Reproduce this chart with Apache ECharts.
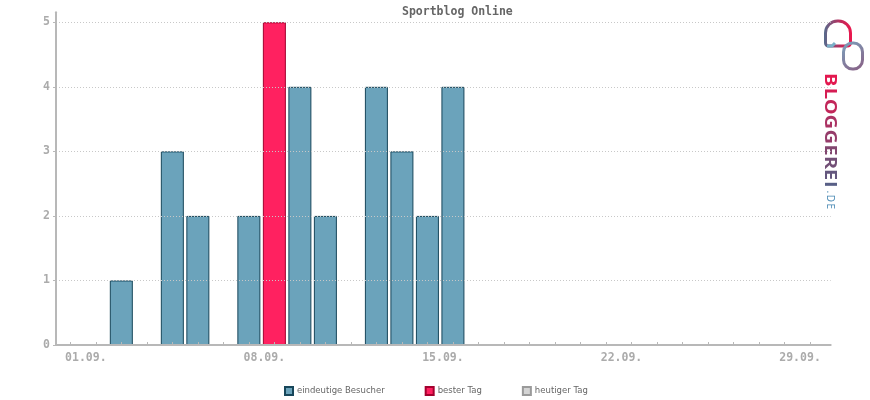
<!DOCTYPE html>
<html>
<head>
<meta charset="utf-8">
<script src="https://cdn.jsdelivr.net/npm/echarts@6/dist/echarts.min.js"></script>
<style>html,body{margin:0;padding:0;background:#fff}#c{width:870px;height:400px}</style>
</head>
<body>
<div id="c"></div>
<script>
// ---- data ----
const titleText = 'Sportblog Online';
const dayLabels = ['01.09.','02.09.','03.09.','04.09.','05.09.','06.09.','07.09.','08.09.','09.09.','10.09.',
  '11.09.','12.09.','13.09.','14.09.','15.09.','16.09.','17.09.','18.09.','19.09.','20.09.',
  '21.09.','22.09.','23.09.','24.09.','25.09.','26.09.','27.09.','28.09.','29.09.','30.09.'];
const visitors = [0,1,0,3,2,0,2,5,4,2, 0,4,3,2,4,0,0,0,0,0, 0,0,0,0,0,0,0,0,0,0];
const bestDay = 8;           // day number of the best day
const labelDays = [1, 8, 15, 22, 29];
const yTicks = [0, 1, 2, 3, 4, 5];
const legendNames = ['eindeutige Besucher', 'bester Tag', 'heutiger Tag'];

// ---- build ----
const tickDays = dayLabels.map((_, i) => i);   // tick marks between days
const blueData = [], redData = [];
visitors.forEach((v, i) => {
  const d = i + 1;
  if (!v) return;
  if (d === bestDay) redData.push([d, v]); else blueData.push([d, v]);
});

const mono = '"DejaVu Sans Mono", monospace';
const axisGray = '#b8b8b8';
const labelGray = '#ababab';

const logoLetters = [
  ['B', 79.7, '#e3184f'], ['L', 93.3, '#d51d53'], ['O', 106.7, '#c22659'], ['G', 121.7, '#ab3263'],
  ['G', 136.7, '#963c6a'], ['E', 150, '#82466f'], ['R', 162.5, '#724f76'], ['E', 174.7, '#64577e'], ['I', 184.2, '#585f86']
];
const logoSmall = [['.', 191.8], ['D', 198.3], ['E', 206.2]];
const graphics = [];
logoLetters.forEach(([ch, y, col]) => graphics.push({
  type: 'text', x: 829.5, y: y, rotation: -Math.PI / 2, scaleX: 1.25, silent: true,
  style: { text: ch, fill: col, font: 'bold 16px "Open Sans", "DejaVu Sans", sans-serif', align: 'center', verticalAlign: 'middle' }
}));
logoSmall.forEach(([ch, y]) => graphics.push({
  type: 'text', x: 829.5, y: y, rotation: -Math.PI / 2, silent: true,
  style: { text: ch, fill: '#4a8ab4', font: '10px "Open Sans", "DejaVu Sans", sans-serif', align: 'center', verticalAlign: 'middle' }
}));
graphics.push({
  type: 'rect', silent: true,
  shape: { x: 825.5, y: 21, width: 25, height: 25, r: [12, 12, 3, 3] },
  style: { fill: 'none', lineWidth: 3,
    stroke: new echarts.graphic.LinearGradient(0, 0, 1, 0, [
      { offset: 0, color: '#4f6f90' }, { offset: 0.6, color: '#c02a5a' }, { offset: 1, color: '#f0144c' }]) }
});
graphics.push({
  type: 'polyline', silent: true,
  shape: { points: [[827, 46], [832, 46], [835, 43]] },
  style: { stroke: '#7ab0c8', lineWidth: 3, fill: 'none' }
});
graphics.push({
  type: 'rect', silent: true,
  shape: { x: 843.5, y: 43, width: 19, height: 26, r: 9 },
  style: { fill: 'none', lineWidth: 3,
    stroke: new echarts.graphic.LinearGradient(0, 0, 1, 1, [
      { offset: 0, color: '#7aa6c0' }, { offset: 1, color: '#8a5a80' }]) }
});

const option = {
  animation: false,
  backgroundColor: '#fff',
  title: {
    text: titleText, left: 402, top: 6, padding: 0,
    textStyle: { fontFamily: mono, fontSize: 11.5, fontWeight: 'bold', color: '#666' }
  },
  legend: {
    left: 284, top: 386, padding: 0, itemGap: 40, itemWidth: 8, itemHeight: 8,
    icon: 'rect', selectedMode: false,
    textStyle: { fontFamily: '"DejaVu Sans", sans-serif', fontSize: 8.5, color: '#666', padding: [0, 0, 0, -1] },
    data: legendNames
  },
  grid: { left: 56, right: 39.3, top: 12.3, bottom: 55, containLabel: false },
  xAxis: {
    type: 'value', min: -0.561, max: 29.81, z: 5,
    splitLine: { show: false },
    axisLine: { show: true, onZero: false, lineStyle: { color: axisGray, width: 2 } },
    axisTick: { show: true, inside: true, length: 3, customValues: tickDays, lineStyle: { color: axisGray, width: 1 } },
    axisLabel: {
      customValues: labelDays, margin: 7, padding: [0, 20, 0, 0],
      fontFamily: mono, fontSize: 11.5, fontWeight: 'bold', color: labelGray,
      formatter: v => dayLabels[v - 1]
    }
  },
  yAxis: {
    type: 'value', min: 0, max: 5.155, z: 5,
    splitLine: { show: false },
    axisLine: { show: true, onZero: false, lineStyle: { color: axisGray, width: 2 } },
    axisTick: { show: true, length: 3, customValues: yTicks, lineStyle: { color: axisGray } },
    axisLabel: { customValues: yTicks, margin: 6, fontFamily: mono, fontSize: 11.5, fontWeight: 'bold', color: labelGray }
  },
  series: [
    {
      name: legendNames[0], type: 'bar', barWidth: 23, barGap: '-100%', data: blueData,
      itemStyle: { color: '#6ba3bb', borderColor: '#17465a', borderWidth: 1 },
      markLine: {
        silent: true, symbol: 'none', label: { show: false },
        lineStyle: { color: '#c8c8c8', type: [1, 2], width: 1 },
        data: yTicks.filter(v => v > 0).map(v => ({ yAxis: v }))
      }
    },
    {
      name: legendNames[1], type: 'bar', barWidth: 23, barGap: '-100%', data: redData,
      itemStyle: { color: '#ff2160', borderColor: '#a3002e', borderWidth: 1 }
    },
    {
      name: legendNames[2], type: 'bar', barWidth: 23, barGap: '-100%', data: [],
      itemStyle: { color: '#d4d4d4', borderColor: '#9a9a9a', borderWidth: 1 }
    }
  ],
  graphic: graphics
};
const chart = echarts.init(document.getElementById('c'), null, { renderer: 'canvas' });
chart.setOption(option);
</script>
</body>
</html>
